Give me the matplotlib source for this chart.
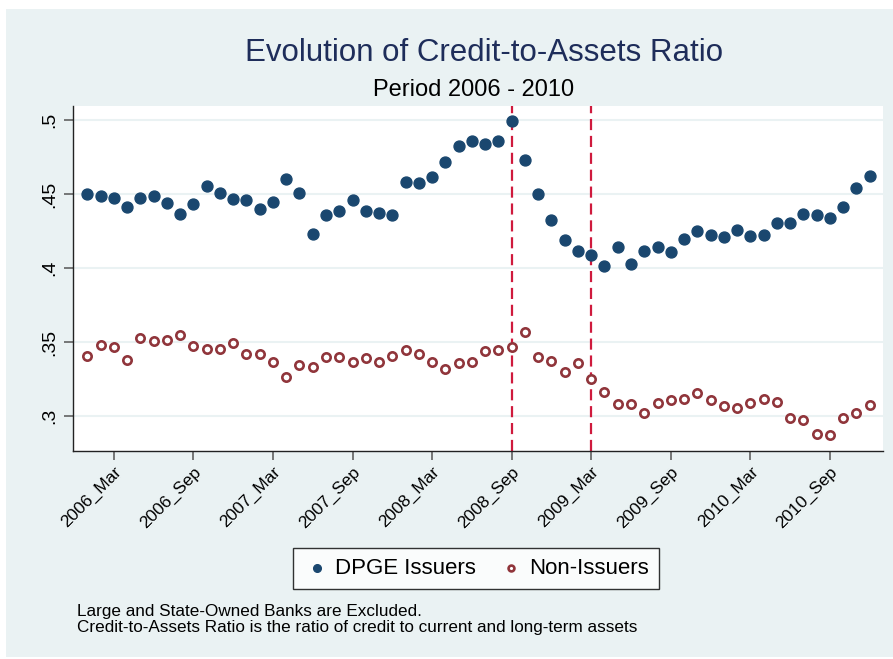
"""
Credit-to-assets ratio of DPGE issuers vs non-issuers, 2006-2010
"""

from matplotlib import pyplot as plt
from matplotlib.patches import Rectangle
import numpy as np

plt.rcParams['font.family'] = ['Liberation Sans', 'DejaVu Sans']

years = [2006, 2007, 2008, 2009, 2010]
month_names = ['Jan', 'Feb', 'Mar', 'Apr', 'May', 'Jun',
               'Jul', 'Aug', 'Sep', 'Oct', 'Nov', 'Dec']
periods = [f"{y}_{m}" for y in years for m in month_names]

dpge = [0.4498, 0.4484, 0.4473, 0.4414, 0.4473, 0.4486, 0.4439, 0.4367,
        0.4435, 0.4556, 0.4507, 0.4466, 0.4457, 0.4396, 0.4444, 0.4599,
        0.4509, 0.4230, 0.4356, 0.4385, 0.4462, 0.4383, 0.4374, 0.4356,
        0.4583, 0.4577, 0.4617, 0.4714, 0.4827, 0.4858, 0.4836, 0.4860,
        0.4995, 0.4732, 0.4498, 0.4327, 0.4187, 0.4115, 0.4086, 0.4014,
        0.4144, 0.4027, 0.4117, 0.4144, 0.4108, 0.4196, 0.4250, 0.4221,
        0.4207, 0.4259, 0.4216, 0.4225, 0.4304, 0.4304, 0.4363, 0.4356,
        0.4336, 0.4414, 0.4541, 0.4624]

non_issuers = [0.3407, 0.3482, 0.3466, 0.3380, 0.3525, 0.3507, 0.3511, 0.3547,
               0.3473, 0.3451, 0.3451, 0.3495, 0.3419, 0.3419, 0.3363, 0.3264,
               0.3345, 0.3329, 0.3399, 0.3397, 0.3363, 0.3392, 0.3363, 0.3403,
               0.3444, 0.3417, 0.3363, 0.3318, 0.3356, 0.3367, 0.3437, 0.3444,
               0.3468, 0.3570, 0.3399, 0.3370, 0.3295, 0.3358, 0.3248, 0.3164,
               0.3081, 0.3079, 0.3023, 0.3090, 0.3108, 0.3117, 0.3157, 0.3108,
               0.3065, 0.3054, 0.3086, 0.3115, 0.3092, 0.2984, 0.2973, 0.2878,
               0.2869, 0.2989, 0.3018, 0.3072]

tick_labels = ['2006_Mar', '2006_Sep', '2007_Mar', '2007_Sep', '2008_Mar',
               '2008_Sep', '2009_Mar', '2009_Sep', '2010_Mar', '2010_Sep']
y_ticks = [0.3, 0.35, 0.4, 0.45, 0.5]
y_tick_labels = ['.3', '.35', '.4', '.45', '.5']
event_periods = ['2008_Sep', '2009_Mar']

BG = '#EAF2F3'
NAVY = '#1A476F'
MAROON = '#90353B'

fig = plt.figure(figsize=(8.93, 6.59), dpi=100, facecolor='white')
fig.patches.append(Rectangle((6 / 893, 2 / 659), 1, 1 - 11 / 659,
                             transform=fig.transFigure, facecolor=BG,
                             edgecolor='none', zorder=-1))

ax = fig.add_axes([0.0814, 0.3156, 0.9074, 0.5235])
ax.set_facecolor('white')

x = np.arange(len(periods))
ax.scatter(x, dpge, s=62, color=NAVY, zorder=3, label='DPGE Issuers')
ax.scatter(x, non_issuers, s=36, facecolor='white', edgecolor=MAROON,
           linewidths=1.9, zorder=3, label='Non-Issuers')

for p in event_periods:
    ax.axvline(periods.index(p), color='#CF1A3D', lw=1.6,
               linestyle=(0, (5, 2.6)), zorder=2)

ax.set_xlim(-1.1, 60)
ax.set_ylim(0.2764, 0.5095)
ax.set_yticks(y_ticks)
ax.set_yticklabels(y_tick_labels, rotation=90, va='center', fontsize=14)
ax.set_xticks([periods.index(t) for t in tick_labels])
ax.set_xticklabels(tick_labels, rotation=45, ha='right',
                   rotation_mode='anchor', fontsize=12.5)
ax.tick_params(axis='both', direction='out', length=6.5, width=1.1,
               color='#555555')
ax.tick_params(axis='y', pad=4)
ax.tick_params(axis='x', pad=3)
ax.grid(axis='y', color=BG, lw=1.5, zorder=1)

for side in ['top', 'right']:
    ax.spines[side].set_visible(False)
for side in ['left', 'bottom']:
    ax.spines[side].set_color('#222222')
    ax.spines[side].set_linewidth(1)

fig.text(0.542, 0.920, 'Evolution of Credit-to-Assets Ratio', ha='center',
         va='center', fontsize=22.5, color='#1E2D5A')
fig.text(0.53, 0.864, 'Period 2006 - 2010', ha='center', va='center',
         fontsize=17, color='black')

leg = fig.legend(loc='center', bbox_to_anchor=(0.533, 0.138), ncol=2,
                 fontsize=16, frameon=True, fancybox=False, markerscale=0.7,
                 handlelength=1.2, handletextpad=0.2, columnspacing=1.0,
                 borderpad=0.45)
leg.get_frame().set_edgecolor('black')
leg.get_frame().set_linewidth(1)

fig.text(0.086, 0.060, 'Large and State-Owned Banks are Excluded.\n'
         'Credit-to-Assets Ratio is the ratio of credit to current and long-term assets',
         ha='left', va='center', fontsize=12.3, linespacing=1.1)

fig.savefig('out.png', dpi=100)
